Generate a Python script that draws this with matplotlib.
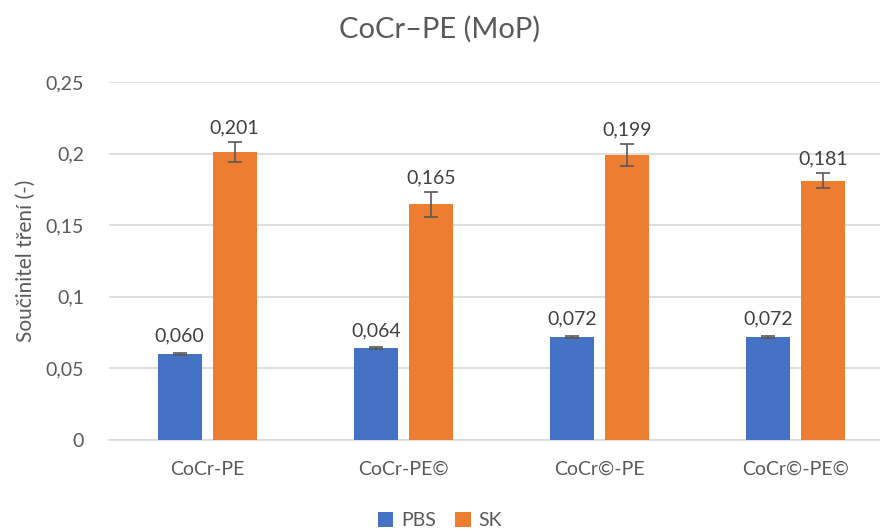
import matplotlib
matplotlib.use("Agg")
import matplotlib.pyplot as plt
import numpy as np

categories = ["CoCr-PE", "CoCr-PE©", "CoCr©-PE", "CoCr©-PE©"]
pbs = [0.060, 0.064, 0.072, 0.072]
pbs_err = [0.0007, 0.0006, 0.0007, 0.0006]
sk = [0.201, 0.1646, 0.199, 0.181]
sk_err = [0.007, 0.0086, 0.0075, 0.0052]
yticks = [0, 0.05, 0.1, 0.15, 0.2, 0.25]
ytick_labels = ["0", "0,05", "0,1", "0,15", "0,2", "0,25"]

plt.rcParams['font.family'] = ['Lato', 'DejaVu Sans']

fig = plt.figure(figsize=(8.8, 5.31), dpi=100)
ax = fig.add_axes([0.124, 0.1714, 0.876, 0.6742])

x = np.arange(len(categories))
w = 0.224
off = 0.14
blue = "#4472C4"
orange = "#ED7D31"
ekw = dict(ecolor="#595959", elinewidth=1.2, capthick=1.2)
ax.bar(x - off, pbs, w, color=blue, yerr=pbs_err, capsize=5, error_kw=ekw, label="PBS", zorder=3)
ax.bar(x + off, sk, w, color=orange, yerr=sk_err, capsize=5, error_kw=ekw, label="SK", zorder=3)

for xi, v, e in zip(x - off, pbs, pbs_err):
    ax.text(xi, v + e + 0.006, f"{v:.3f}".replace(".", ","), ha="center", va="bottom",
            fontsize=14, color="#404040")
for xi, v, e in zip(x + off, sk, sk_err):
    ax.text(xi, v + e + 0.004, f"{v:.3f}".replace(".", ","), ha="center", va="bottom",
            fontsize=14, color="#404040")

ax.set_ylim(0, 0.25)
ax.set_xlim(-0.5, 3.43)
ax.set_yticks(yticks)
ax.set_yticklabels(ytick_labels, fontsize=14, color="#595959")
ax.set_xticks(x)
ax.set_xticklabels(categories, fontsize=14, color="#595959")
ax.tick_params(axis="y", length=0, pad=18)
ax.tick_params(axis="x", length=0, pad=15)
ax.grid(axis="y", color="#D9D9D9", linewidth=1.2, zorder=0)
for s in ["top", "right", "left"]:
    ax.spines[s].set_visible(False)
ax.spines["bottom"].set_color("#D9D9D9")
ax.spines["bottom"].set_linewidth(1.2)

ax.set_ylabel("Součinitel tření (-)", fontsize=15, color="#595959", labelpad=7)
fig.text(0.5, 0.945, "CoCr–PE (MoP)", ha="center", va="center", fontsize=21, color="#595959")

leg = fig.legend(loc="lower center", bbox_to_anchor=(0.5, -0.03), ncol=2, frameon=False,
                 fontsize=14, handlelength=0.8, handleheight=0.8, columnspacing=1.0,
                 handletextpad=0.4)
for t in leg.get_texts():
    t.set_color("#595959")

fig.savefig("out.png", dpi=100)
